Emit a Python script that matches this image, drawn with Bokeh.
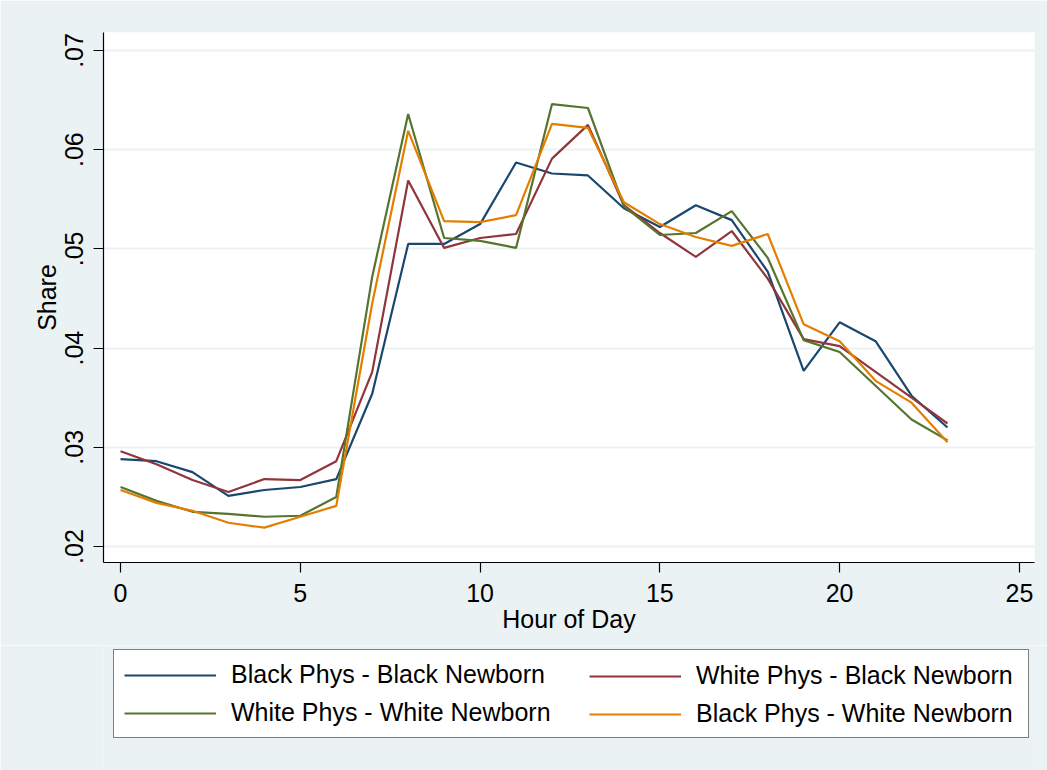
from bokeh.plotting import figure
from bokeh.layouts import column
from bokeh.models import Legend, LegendItem, FixedTicker, CustomJSTickFormatter, Range1d
from bokeh.embed import file_html
from bokeh.resources import INLINE

hours = list(range(24))
black_black = [.0288, .0286, .0275, .0251, .0257, .0260, .0268, .0354, .0505, .0505, .0525, .0587,
               .0576, .0574, .0541, .0522, .0544, .0529, .0477, .0377, .0426, .0407, .0352, .0320]
white_black = [.0296, .0283, .0267, .0255, .0268, .0267, .0286, .0376, .0569, .0501, .0511, .0515,
               .0591, .0625, .0544, .0516, .0492, .0518, .0470, .0409, .0402, .0376, .0350, .0324]
white_white = [.0260, .0246, .0235, .0233, .0230, .0231, .0250, .0472, .0636, .0511, .0508, .0501,
               .0646, .0642, .0543, .0514, .0516, .0538, .0491, .0408, .0396, .0362, .0328, .0307]
black_white = [.0257, .0244, .0236, .0224, .0219, .0230, .0241, .0445, .0619, .0528, .0527, .0534,
               .0626, .0622, .0547, .0525, .0512, .0503, .0515, .0424, .0407, .0367, .0345, .0305]

series_names = ["Black Phys - Black Newborn", "White Phys - Black Newborn",
                "White Phys - White Newborn", "Black Phys - White Newborn"]
series_values = [black_black, white_black, white_white, black_white]
series_colors = ["#1a476f", "#90353b", "#55752f", "#e37e00"]

x_ticks = [0, 5, 10, 15, 20, 25]
y_ticks = [0.02, 0.03, 0.04, 0.05, 0.06, 0.07]

FONT = "Liberation Sans"
BG = "#eaf2f3"
W = 1047

p = figure(width=W, height=645, output_backend="svg", toolbar_location=None,
           x_range=Range1d(-0.474, 25.42), y_range=Range1d(0.01839, 0.07181),
           min_border_left=103, min_border_top=32, min_border_right=13, min_border_bottom=83)

p.border_fill_color = BG
p.background_fill_color = "white"
p.outline_line_color = None

for name, vals, col in zip(series_names, series_values, series_colors):
    p.line(hours, vals, line_color=col, line_width=2.2)

# axes
p.xaxis.ticker = FixedTicker(ticks=x_ticks)
p.yaxis.ticker = FixedTicker(ticks=y_ticks)
p.yaxis.formatter = CustomJSTickFormatter(code="return tick.toFixed(2).replace(/^0/, '');")
p.yaxis.major_label_orientation = "vertical"
for ax in (p.xaxis, p.yaxis):
    ax.axis_line_color = "black"
    ax.axis_line_width = 1.2
    ax.major_tick_line_color = "black"
    ax.major_tick_line_width = 1.2
    ax.major_tick_out = 10
    ax.major_tick_in = 0
    ax.minor_tick_line_color = None
    ax.major_label_text_font = FONT
    ax.major_label_text_font_size = "25px"
    ax.major_label_text_color = "black"
    ax.axis_label_text_font = FONT
    ax.axis_label_text_font_size = "25px"
    ax.axis_label_text_font_style = "normal"
    ax.axis_label_text_color = "black"
p.xaxis.axis_label = "Hour of Day"
p.yaxis.axis_label = "Share"
p.xaxis.major_label_standoff = 11
p.xaxis.axis_label_standoff = 0
p.yaxis.major_label_standoff = 10
p.yaxis.axis_label_standoff = 2

p.xgrid.grid_line_color = None
p.ygrid.grid_line_color = BG
p.ygrid.grid_line_width = 2

# legend panel (separate figure so the legend is not clipped)
q = figure(width=W, height=125, output_backend="svg", toolbar_location=None,
           x_range=Range1d(100, 101), y_range=Range1d(100, 101),
           x_axis_type=None, y_axis_type=None,
           min_border_left=0, min_border_top=0, min_border_right=0, min_border_bottom=0)
q.border_fill_color = BG
q.background_fill_color = BG
q.outline_line_color = None
q.xgrid.grid_line_color = None
q.ygrid.grid_line_color = None

items = []
for name, vals, col in zip(series_names, series_values, series_colors):
    r = q.line(hours, vals, line_color=col, line_width=2.2)
    items.append(LegendItem(label=name, renderers=[r]))

common = dict(label_text_font=FONT, label_text_font_size="25px", label_text_color="black",
              glyph_width=92, glyph_height=28, label_height=28,
              label_standoff=15, spacing=9, padding=10, margin=0,
              border_line_color="black", border_line_width=1.2)

# left column (also draws the framed box spanning both columns)
legend_left = Legend(items=[items[0], items[2]], orientation="vertical", location=(10, 32),
                     label_width=787,
                     background_fill_color="white", background_fill_alpha=1.0, **common)
# right column, transparent, drawn on top of the box
legend_right = Legend(items=[items[1], items[3]], orientation="vertical", location=(476, 32),
                      border_line_alpha=0.0, background_fill_alpha=0.0, **common)
q.add_layout(legend_left, "center")
q.add_layout(legend_right, "center")

layout = column(p, q, spacing=0)
open("out.html", "w").write(file_html(layout, INLINE))
